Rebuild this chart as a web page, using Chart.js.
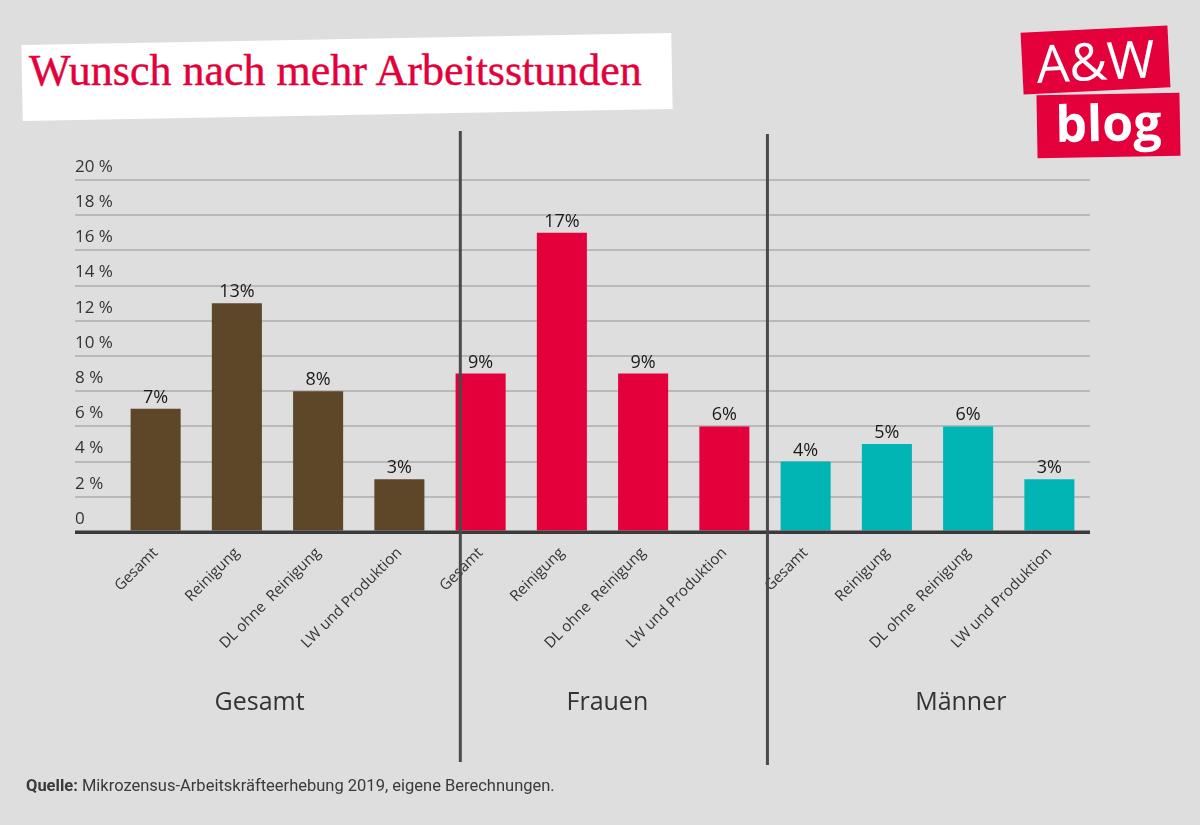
<!DOCTYPE html>
<html>
<head>
<meta charset="utf-8">
<script src="https://cdn.jsdelivr.net/npm/chart.js@4.4.1/dist/chart.umd.min.js"></script>
<style>
html,body{margin:0;padding:0;background:#dedede;width:1200px;height:825px;overflow:hidden;}
#wrap{position:relative;width:1200px;height:825px;background:#dedede;}
#c{position:absolute;left:0;top:0;}
#titlebox{position:absolute;left:22px;top:39px;width:650px;height:76px;background:#fff;transform:rotate(-1.05deg);}
#title{position:absolute;left:29px;top:49px;font-family:"Liberation Serif",serif;font-size:44px;line-height:1;color:#e4003a;white-space:nowrap;-webkit-text-stroke:0.4px #e4003a;}
#logo1{position:absolute;left:1022px;top:29px;width:147px;height:62px;background:#e3003b;transform:rotate(-2.8deg);color:#fff;font-family:"Open Sans",sans-serif;font-size:52px;line-height:62px;text-align:center;}
#logo2{position:absolute;left:1037px;top:94px;width:143px;height:63px;background:#e3003b;transform:rotate(-1deg);color:#fff;font-family:"Open Sans",sans-serif;font-weight:700;font-size:50px;line-height:56px;text-align:center;}
#footer{position:absolute;left:26px;top:776px;font-family:Roboto,sans-serif;font-size:16.5px;line-height:20px;color:#3a3a3a;white-space:nowrap;}
</style>
</head>
<body>
<div id="wrap">
  <div id="titlebox"></div>
  <div id="title">Wunsch nach mehr Arbeitsstunden</div>
  <div id="logo1">A&amp;W</div>
  <div id="logo2">blog</div>
  <canvas id="c" width="1200" height="825"></canvas>
  <div id="footer"><b>Quelle:</b> Mikrozensus-Arbeitskräfteerhebung 2019, eigene Berechnungen.</div>
</div>
<script>
const subCategories = ['Gesamt', 'Reinigung', 'DL ohne  Reinigung', 'LW und Produktion'];
const categories = [...subCategories, ...subCategories, ...subCategories];
const groupNames = ['Gesamt', 'Frauen', 'Männer'];
const gesamtValues = [7, 13, 8, 3];
const frauenValues = [9, 17, 9, 6];
const maennerValues = [4, 5, 6, 3];
const yTickLabels = ['0', '2 %', '4 %', '6 %', '8 %', '10 %', '12 %', '14 %', '16 %', '18 %', '20 %'];
const groupColors = ['#5e4628', '#e3003b', '#00b5b4'];

const allValues = [...gesamtValues, ...frauenValues, ...maennerValues];
const barColors = [
  ...gesamtValues.map(() => groupColors[0]),
  ...frauenValues.map(() => groupColors[1]),
  ...maennerValues.map(() => groupColors[2])
];

const FONT = '"Open Sans", sans-serif';

const decorPlugin = {
  id: 'decor',
  afterDatasetsDraw(chart) {
    const ctx = chart.ctx;
    const xs = chart.scales.x, ys = chart.scales.y;
    const meta = chart.getDatasetMeta(0);
    ctx.save();
    // baseline
    ctx.strokeStyle = '#3a3a3a';
    ctx.lineWidth = 3;
    ctx.beginPath();
    ctx.moveTo(75, ys.getPixelForValue(0));
    ctx.lineTo(chart.chartArea.right, ys.getPixelForValue(0));
    ctx.stroke();
    // value labels
    ctx.fillStyle = '#1a1a1a';
    ctx.font = '18px ' + FONT;
    ctx.textAlign = 'center';
    ctx.textBaseline = 'alphabetic';
    meta.data.forEach((bar, i) => {
      ctx.fillText(allValues[i] + '%', bar.x, bar.y - 6);
    });
    // separators
    ctx.strokeStyle = '#4a4a4a';
    ctx.lineWidth = 3;
    [[3.75, 131, 762], [7.53, 134, 765]].forEach(([v, y1, y2]) => {
      const x = xs.getPixelForValue(v);
      ctx.beginPath();
      ctx.moveTo(x, y1);
      ctx.lineTo(x, y2);
      ctx.stroke();
    });
    // group labels
    ctx.fillStyle = '#333';
    ctx.font = '25px ' + FONT;
    ctx.textBaseline = 'middle';
    [1.28, 5.56, 9.91].forEach((v, i) => {
      ctx.fillText(groupNames[i], xs.getPixelForValue(v), 703);
    });
    ctx.restore();
  }
};

new Chart(document.getElementById('c'), {
  type: 'bar',
  data: {
    labels: categories,
    datasets: [{
      data: allValues,
      backgroundColor: barColors,
      borderWidth: 0,
      barPercentage: 0.616,
      categoryPercentage: 1
    }]
  },
  options: {
    responsive: false,
    animation: false,
    devicePixelRatio: 1,
    layout: { padding: { top: 180, right: 110, bottom: 143, left: 75 } },
    plugins: { legend: { display: false }, title: { display: false }, tooltip: { enabled: false } },
    scales: {
      x: {
        grid: { display: false },
        border: { display: false },
        ticks: {
          autoSkip: false,
          minRotation: 45,
          maxRotation: 45,
          padding: 4,
          color: '#333',
          font: { family: FONT, size: 15 }
        },
        afterFit: s => { s.height = 150; }
      },
      y: {
        min: 0,
        max: 20,
        border: { display: false },
        grid: {
          color: c => (c.tick && c.tick.value === 0) ? '#3a3a3a' : '#b9b9b9',
          lineWidth: c => (c.tick && c.tick.value === 0) ? 3 : 2,
          tickLength: 40,
          drawTicks: true
        },
        ticks: {
          stepSize: 2,
          crossAlign: 'far',
          labelOffset: -13,
          padding: 0,
          color: '#333',
          font: { family: FONT, size: 17 },
          callback: (v, i) => yTickLabels[i]
        },
        afterFit: s => { s.width = 40; }
      }
    }
  },
  plugins: [decorPlugin]
});
</script>
</body>
</html>
